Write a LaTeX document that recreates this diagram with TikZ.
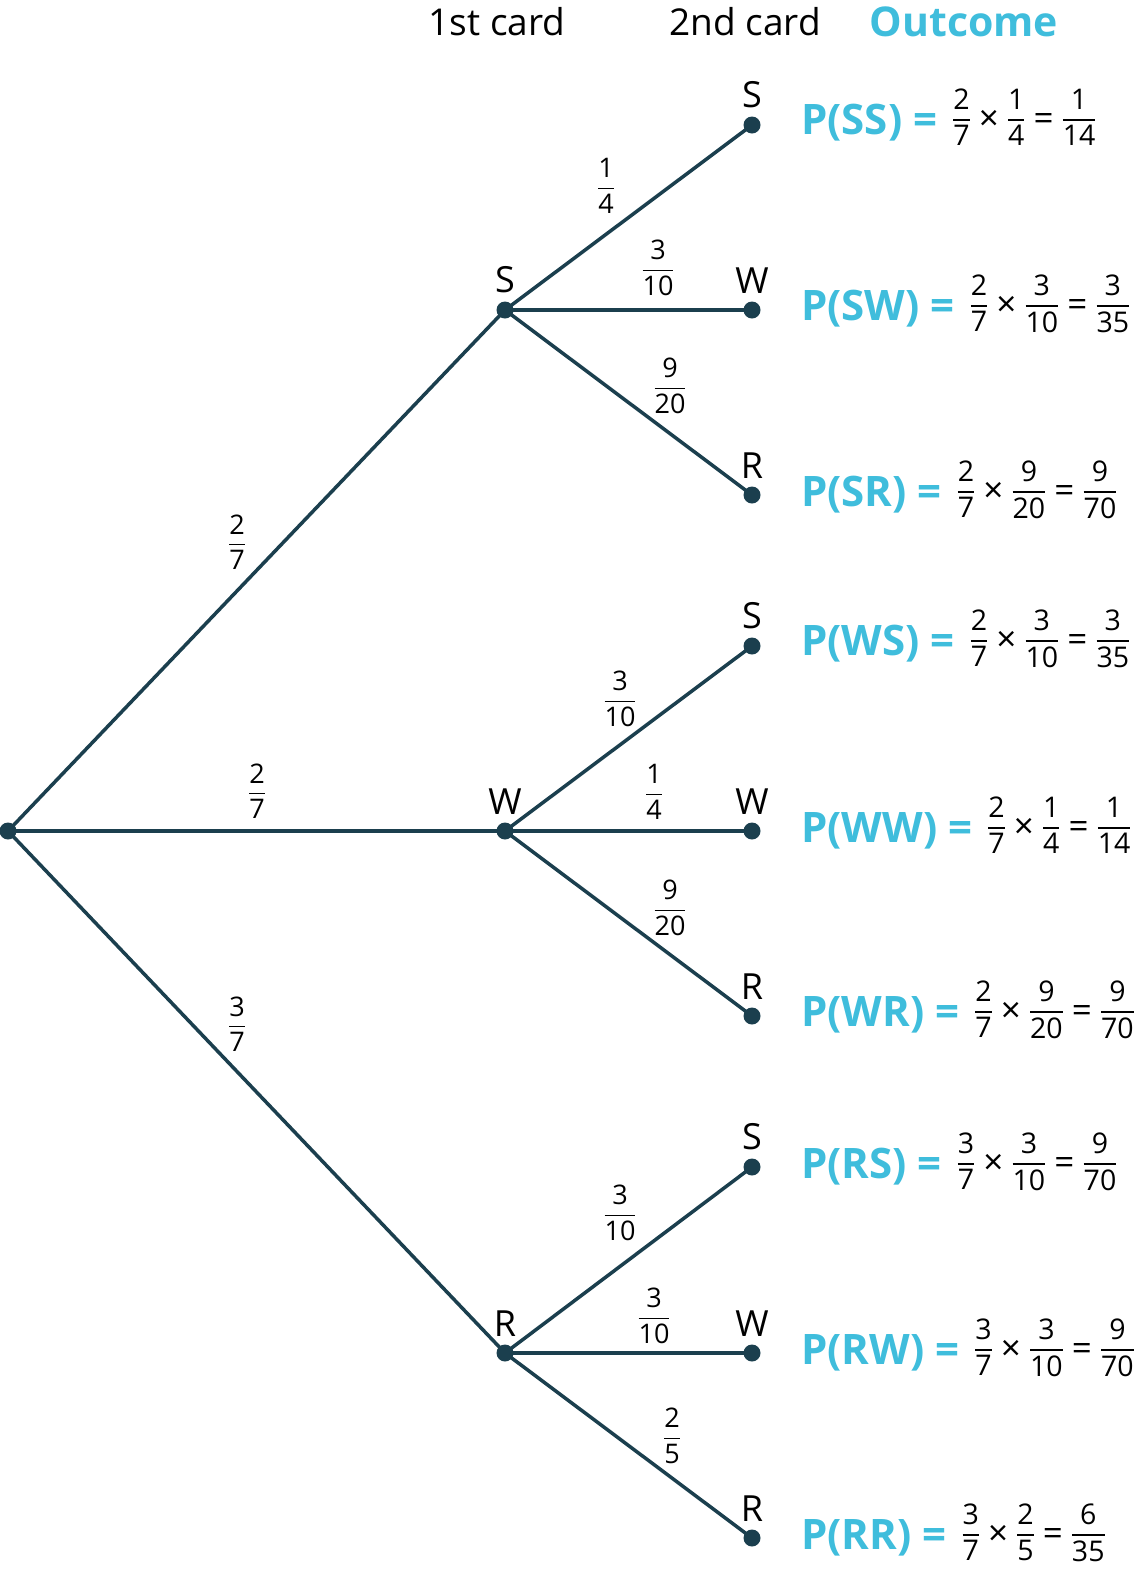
\documentclass[tikz,border=0pt]{standalone}
\usepackage{amsmath}
\usepackage{fontspec}
\setmainfont{Open Sans}
\usetikzlibrary{positioning}
\definecolor{treeline}{HTML}{1B3F4E}
\definecolor{outcyan}{HTML}{3FBDDC}
\newcommand\fr[2]{\ensuremath{\genfrac{}{}{1.6pt}{0}{\mbox{#1}}{\mbox{#2}}}}
\newcommand\rfr[2]{\raisebox{8pt}{\fr{#1}{#2}}}
\newcommand\op[1]{\hspace{8pt}\raisebox{4pt}{\fontsize{35}{36}\selectfont #1}\hspace{8pt}}
\newcommand\outc[2]{{\fontsize{42}{44}\selectfont\bfseries\color{outcyan}P(#1) =}\hspace{15pt}#2}

\begin{document}
\begin{tikzpicture}[x=1pt,y=-1pt,
  branch/.style={line width=3.5pt,draw=treeline},
  dot/.style={circle,fill=treeline,draw=none,inner sep=0,minimum size=17pt},
  letter/.style={font=\fontsize{36}{40}\selectfont,inner sep=0},
  frac/.style={font=\fontsize{27}{30}\selectfont,inner sep=0},
  outcome/.style={font=\fontsize{28.5}{30}\selectfont,inner sep=0,anchor=base west},
  head/.style={font=\fontsize{37}{40}\selectfont,inner sep=0}]
  \useasboundingbox (0,0) rectangle (1137,1575);
  % headings
  \node[head] (h1) at (497,22) {1st card};
  \node[head] (h2) at (745,22) {2nd card};
  \node[head,text=outcyan,font=\fontsize{41}{44}\selectfont\bfseries] (h3) at (964,22) {Outcome};
  % first card
  \node[dot] (root) at (8,831) {};
  \node[dot,label={[letter,label distance=8pt]above:S}] (S) at (505,310) {};
  \node[dot,label={[letter,label distance=8pt]above:W}] (W) at (505,831) {};
  \node[dot,label={[letter,label distance=8pt]above:R}] (R) at (505,1353) {};
  % second card
  \foreach \a/\b/\y in {S/S/125,S/W/310,S/R/495,W/S/646,W/W/831,W/R/1016,R/S/1167,R/W/1353,R/R/1538}
     {\node[dot,label={[letter,label distance=8pt]above:\b}] (\a\b) at (752,\y) {};
      \draw[branch] (\a.center) -- (\a\b.center);}
  \foreach \a in {S,W,R}
     \draw[branch] (root.center) -- (\a.center);
  % branch probabilities
  \node[frac] (pS) at (237,542) {\fr{2}{7}};
  \node[frac] (pW) at (257,791) {\fr{2}{7}};
  \node[frac] (pR) at (237,1024) {\fr{3}{7}};
  \node[frac] (pSS) at (606,186) {\fr{1}{4}};
  \node[frac] (pSW) at (658,268) {\fr{3}{10}};
  \node[frac] (pSR) at (670,386) {\fr{9}{20}};
  \node[frac] (pWS) at (620,699) {\fr{3}{10}};
  \node[frac] (pWW) at (654,792) {\fr{1}{4}};
  \node[frac] (pWR) at (670,908) {\fr{9}{20}};
  \node[frac] (pRS) at (620,1213) {\fr{3}{10}};
  \node[frac] (pRW) at (654,1316) {\fr{3}{10}};
  \node[frac] (pRR) at (672,1436) {\fr{2}{5}};
  % outcomes
  \node[outcome] (oSS) at (801,134)  {\outc{SS}{\rfr{2}{7}\op{×}\rfr{1}{4}\op{=}\rfr{1}{14}}};
  \node[outcome] (oSW) at (801,320)  {\outc{SW}{\rfr{2}{7}\op{×}\rfr{3}{10}\op{=}\rfr{3}{35}}};
  \node[outcome] (oSR) at (801,506)  {\outc{SR}{\rfr{2}{7}\op{×}\rfr{9}{20}\op{=}\rfr{9}{70}}};
  \node[outcome] (oWS) at (801,655)  {\outc{WS}{\rfr{2}{7}\op{×}\rfr{3}{10}\op{=}\rfr{3}{35}}};
  \node[outcome] (oWW) at (801,842)  {\outc{WW}{\rfr{2}{7}\op{×}\rfr{1}{4}\op{=}\rfr{1}{14}}};
  \node[outcome] (oWR) at (801,1026) {\outc{WR}{\rfr{2}{7}\op{×}\rfr{9}{20}\op{=}\rfr{9}{70}}};
  \node[outcome] (oRS) at (801,1178) {\outc{RS}{\rfr{3}{7}\op{×}\rfr{3}{10}\op{=}\rfr{9}{70}}};
  \node[outcome] (oRW) at (801,1364) {\outc{RW}{\rfr{3}{7}\op{×}\rfr{3}{10}\op{=}\rfr{9}{70}}};
  \node[outcome] (oRR) at (801,1549) {\outc{RR}{\rfr{3}{7}\op{×}\rfr{2}{5}\op{=}\rfr{6}{35}}};
\end{tikzpicture}
\end{document}
